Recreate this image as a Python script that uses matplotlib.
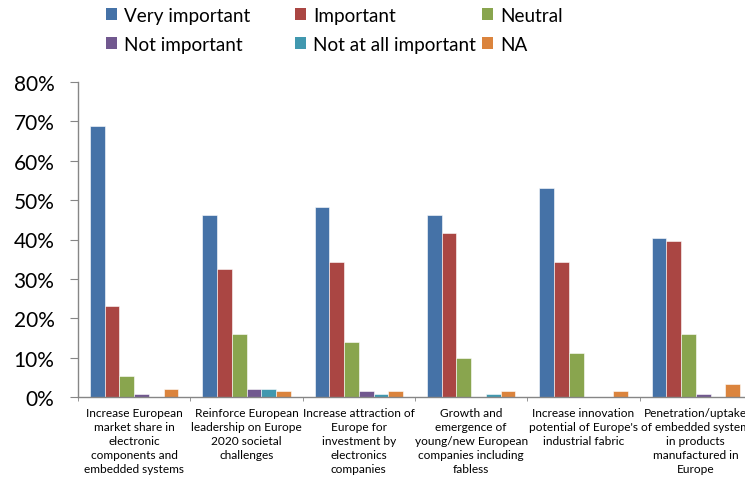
import matplotlib
matplotlib.use("Agg")
import matplotlib.pyplot as plt
from matplotlib.ticker import PercentFormatter, FixedLocator

plt.rcParams['font.family'] = ['Lato', 'DejaVu Sans']

categories = [
    "Increase European\nmarket share in\nelectronic\ncomponents and\nembedded systems",
    "Reinforce European\nleadership on Europe\n2020 societal\nchallenges",
    "Increase attraction of\nEurope for\ninvestment by\nelectronics\ncompanies",
    "Growth and\nemergence of\nyoung/new European\ncompanies including\nfabless",
    "Increase innovation\npotential of Europe's\nindustrial fabric",
    "Penetration/uptake\nof embedded system\nin products\nmanufactured in\nEurope",
]

very_important = [68.9, 46.3, 48.3, 46.3, 53.0, 40.3]
important = [23.2, 32.4, 34.4, 41.7, 34.4, 39.7]
neutral = [5.3, 16.0, 13.9, 10.0, 11.3, 16.0]
not_important = [0.7, 2.0, 1.4, 0.0, 0.0, 0.7]
not_at_all = [0.0, 2.0, 0.7, 0.7, 0.0, 0.0]
na = [2.0, 1.4, 1.4, 1.4, 1.4, 3.3]

series = [
    ("Very important", very_important, "#4572A7"),
    ("Important", important, "#AA4643"),
    ("Neutral", neutral, "#89A54E"),
    ("Not important", not_important, "#71588F"),
    ("Not at all important", not_at_all, "#4198AF"),
    ("NA", na, "#DB843D"),
]

fig = plt.figure(figsize=(7.45, 4.81), dpi=100)
ax = fig.add_axes([78 / 745, 83 / 481, 674 / 745, 315 / 481])

w = 0.131
x = list(range(len(categories)))
handles = []
for k, (name, vals, col) in enumerate(series):
    bars = ax.bar([i + (k - 2.5) * w for i in x], vals, width=w, color=col,
                  edgecolor="#ffffff", linewidth=0.4, label=name)
    handles.append(bars)

ax.set_xlim(-0.5, len(categories) - 0.5)
ax.set_ylim(0, 80)
ax.yaxis.set_major_locator(FixedLocator(range(0, 81, 10)))
ax.yaxis.set_major_formatter(PercentFormatter(decimals=0))
ax.tick_params(axis='y', labelsize=15, length=6, color="#868686", pad=11)

ax.set_xticks(x)
ax.set_xticklabels(categories, fontsize=8.6, linespacing=1.35, va='top')
ax.tick_params(axis='x', which='major', length=0, pad=7)
ax.xaxis.set_minor_locator(FixedLocator([i - 0.5 for i in range(len(categories) + 1)]))
ax.tick_params(axis='x', which='minor', length=3, color="#868686")

for s in ("top", "right"):
    ax.spines[s].set_visible(False)
for s in ("left", "bottom"):
    ax.spines[s].set_color("#868686")
    ax.spines[s].set_linewidth(1.0)

# legend: 3 columns x 2 rows
col_x = [106, 295, 482]
for c in range(3):
    pair = [handles[c], handles[c + 3]]
    leg = fig.legend(pair, [series[c][0], series[c + 3][0]],
                     loc='upper left', bbox_to_anchor=(col_x[c] / 745, 1 - 8 / 481),
                     frameon=False, fontsize=13.6, handlelength=0.6, handleheight=0.6,
                     handletextpad=0.35, labelspacing=0.62, borderpad=0.0,
                     borderaxespad=0.0)
    for h in leg.legend_handles:
        h.set_linewidth(0)

fig.savefig("out.png", dpi=100)
